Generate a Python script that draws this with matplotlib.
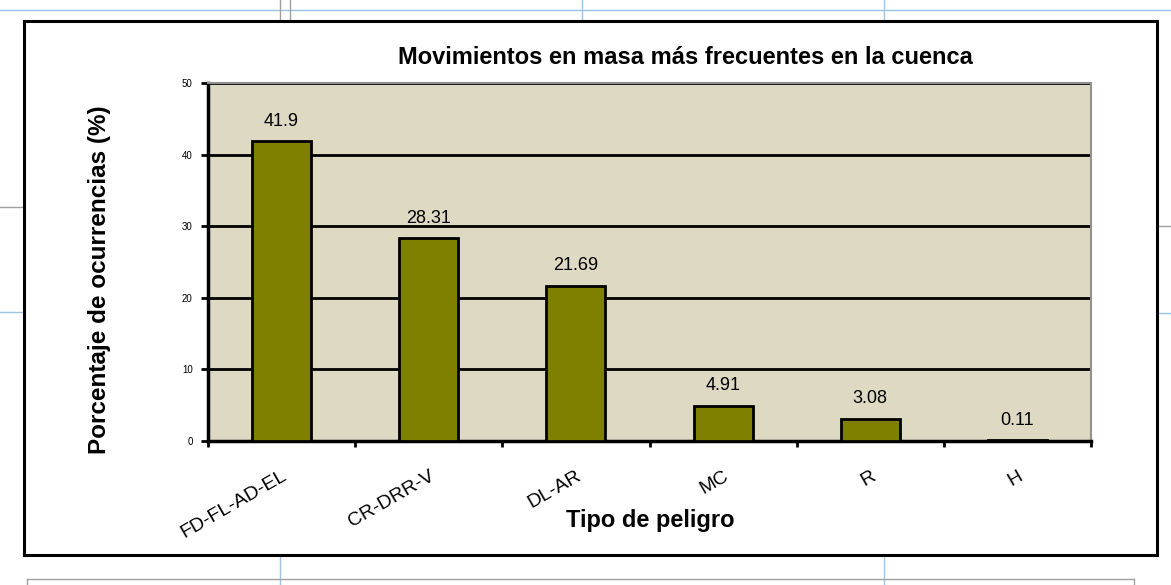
import matplotlib.pyplot as plt
from matplotlib.lines import Line2D
from matplotlib.patches import Rectangle

plt.rcParams['font.family'] = ['Liberation Sans', 'DejaVu Sans']

# data
tipos = ['FD-FL-AD-EL', 'CR-DRR-V', 'DL-AR', 'MC', 'R', 'H']
porcentajes = [41.9, 28.31, 21.69, 4.91, 3.08, 0.11]
etiquetas = ['41.9', '28.31', '21.69', '4.91', '3.08', '0.11']
yticks = [0, 10, 20, 30, 40, 50]

W, H = 1171, 585
fig = plt.figure(figsize=(W / 100, H / 100), dpi=100)
fig.patch.set_facecolor('white')


def px(x, y):
    return x / W, 1 - y / H


# page decorations behind the chart (document layout lines)
blue = '#9dc3e6'
grey = '#a0a0a0'
for (x0, y0, x1, y1, c) in [
    (0, 10, 1171, 10, blue),
    (280, 0, 280, 21, grey), (290, 0, 290, 21, grey),
    (582, 0, 582, 21, blue), (884, 0, 884, 21, blue),
    (0, 207, 24, 207, grey), (0, 312, 24, 312, blue),
    (1157, 226, 1171, 226, grey), (1157, 313, 1171, 313, blue),
    (280, 555, 280, 585, blue), (884, 555, 884, 585, blue),
    (27, 579, 1134, 579, grey), (27, 579, 27, 585, grey), (1134, 579, 1134, 585, grey),
]:
    xa, ya = px(x0, y0)
    xb, yb = px(x1, y1)
    fig.add_artist(Line2D([xa, xb], [ya, yb], color=c, lw=1, transform=fig.transFigure, zorder=-2))

# outer chart border
bx, by = px(24, 555)
fig.add_artist(Rectangle((bx, by), (1157 - 24) / W, (555 - 21) / H, transform=fig.transFigure,
                         facecolor='white', edgecolor='black', lw=2.2, zorder=-1))

l, b = px(208, 441)
ax = fig.add_axes([l, b, (1091 - 208) / W, (441 - 83) / H])
ax.set_zorder(1)
ax.set_facecolor('#ddd9c3')

x = range(len(tipos))
bars = ax.bar(x, porcentajes, width=0.4, color='#808000', edgecolor='black', linewidth=2, zorder=3)
for i, v in enumerate(porcentajes):
    ax.text(i, v + 1.6, etiquetas[i], ha='center', va='bottom', fontsize=13, zorder=4)

ax.set_xlim(-0.5, len(tipos) - 0.5)
ax.set_ylim(0, 50)
ax.set_yticks(yticks)
ax.set_yticklabels([str(t) for t in yticks], fontsize=7)
ax.yaxis.grid(True, color='black', lw=2)
ax.set_axisbelow(True)

ax.set_xticks([i - 0.5 for i in range(len(tipos) + 1)])
ax.set_xticklabels([])
ax.set_xticks(list(x), minor=True)
ax.set_xticklabels(tipos, minor=True, rotation=30, ha='right', rotation_mode='anchor', fontsize=14)
ax.tick_params(axis='x', which='minor', length=0, pad=19)
ax.tick_params(axis='x', which='major', length=4, width=2, direction='out')
ax.tick_params(axis='y', length=5, width=2, direction='out', pad=6)

for s in ['left', 'bottom']:
    ax.spines[s].set_linewidth(2.5)
    ax.spines[s].set_color('black')
for s in ['top', 'right']:
    ax.spines[s].set_linewidth(1.5)
    ax.spines[s].set_color('#909090')

fig.text(685 / W, 1 - 57 / H, 'Movimientos en masa más frecuentes en la cuenca',
         ha='center', va='center', fontsize=17, fontweight='bold')
fig.text(100 / W, 1 - 280 / H, 'Porcentaje de ocurrencias (%)', rotation=90,
         ha='center', va='center', fontsize=17.5, fontweight='bold')
fig.text(650 / W, 1 - 520 / H, 'Tipo de peligro', ha='center', va='center',
         fontsize=17, fontweight='bold')

fig.savefig('out.png', dpi=100)
